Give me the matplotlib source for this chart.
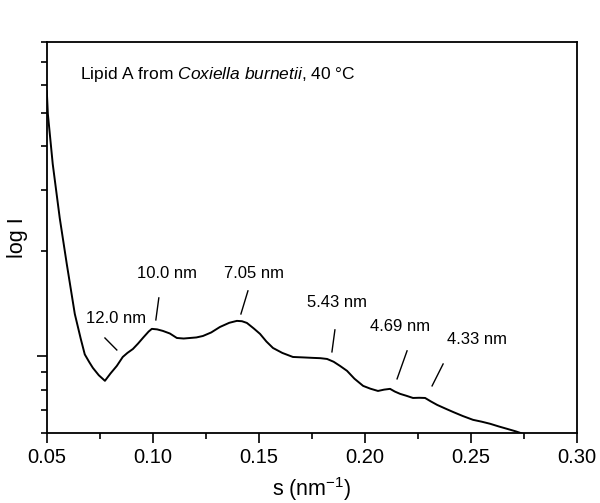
import matplotlib
matplotlib.use("Agg")
import matplotlib.pyplot as plt
from matplotlib.ticker import MultipleLocator, LogLocator, NullFormatter

plt.rcParams["font.family"] = ["Liberation Sans", "DejaVu Sans"]
plt.rcParams["mathtext.fontset"] = "custom"
plt.rcParams["mathtext.rm"] = "Liberation Sans"
plt.rcParams["mathtext.it"] = "Liberation Sans:italic"

# curva de dispersion (s en nm^-1, intensidad relativa)
s_vals = [0.0500, 0.0505, 0.0528, 0.0561, 0.0594, 0.0632, 0.0660, 0.0679,
          0.0700, 0.0717, 0.0745, 0.0774, 0.0800, 0.0830, 0.0858, 0.0880,
          0.0906, 0.0930, 0.0955, 0.0980, 0.0995, 0.1020, 0.1047, 0.1080,
          0.1113, 0.1145, 0.1175, 0.1205, 0.1236, 0.1275, 0.1316, 0.1360,
          0.1396, 0.1420, 0.1443, 0.1475, 0.1505, 0.1535, 0.1566, 0.1610,
          0.1660, 0.1710, 0.1755, 0.1790, 0.1821, 0.1852, 0.1882, 0.1915,
          0.1950, 0.1991, 0.2025, 0.2061, 0.2090, 0.2118, 0.2140, 0.2165,
          0.2195, 0.2226, 0.2255, 0.2283, 0.2310, 0.2340, 0.2380, 0.2415,
          0.2460, 0.2509, 0.2550, 0.2590, 0.2630, 0.2670, 0.2710, 0.2745]
intensity = [5.77, 4.96, 3.56, 2.49, 1.84, 1.32, 1.12, 1.01,
             0.960, 0.924, 0.880, 0.848, 0.890, 0.936, 0.993, 1.020,
             1.047, 1.085, 1.130, 1.175, 1.196, 1.192, 1.180, 1.160,
             1.126, 1.122, 1.126, 1.130, 1.141, 1.168, 1.211, 1.245,
             1.261, 1.258, 1.244, 1.200, 1.157, 1.100, 1.054, 1.020,
             0.993, 0.990, 0.987, 0.985, 0.980, 0.962, 0.936, 0.906,
             0.860, 0.820, 0.805, 0.793, 0.800, 0.804, 0.790, 0.778,
             0.768, 0.757, 0.758, 0.757, 0.740, 0.723, 0.705, 0.690,
             0.672, 0.655, 0.647, 0.638, 0.627, 0.617, 0.607, 0.597]

# etiquetas de los picos
peak_labels = ["12.0 nm", "10.0 nm", "7.05 nm", "5.43 nm", "4.69 nm", "4.33 nm"]
# segmento (x0, y0, x1, y1) y posicion del texto (x, y)
peak_lines = [(0.0774, 1.126, 0.0830, 1.040),
              (0.1028, 1.468, 0.1014, 1.269),
              (0.1448, 1.538, 0.1415, 1.320),
              (0.1858, 1.188, 0.1844, 1.027),
              (0.2198, 1.034, 0.2151, 0.859),
              (0.2368, 0.948, 0.2316, 0.820)]
peak_text = [(0.0825, 1.277), (0.1066, 1.720), (0.1476, 1.720),
             (0.1868, 1.420), (0.2165, 1.211), (0.2528, 1.112)]

fig = plt.figure(figsize=(6.0, 5.03), dpi=100)
ax = fig.add_axes([0.078, 0.139, 0.884, 0.778])

ax.plot(s_vals, intensity, color="black", linewidth=1.4)

for label, seg, pos in zip(peak_labels, peak_lines, peak_text):
    ax.plot([seg[0], seg[2]], [seg[1], seg[3]], color="black", linewidth=1.0)
    ax.text(pos[0], pos[1], label, ha="center", va="center", fontsize=12)

ax.text(0.0656, 6.46, "Lipid A from $\\it{Coxiella\\ burnetii}$, 40 °C",
        fontsize=12.5, va="center", ha="left")

ax.set_yscale("log")
ax.set_xlim(0.05, 0.30)
ax.set_ylim(0.6, 8.0)

ax.xaxis.set_minor_locator(MultipleLocator(0.025))
ax.set_xticks([0.05, 0.10, 0.15, 0.20, 0.25, 0.30])
ax.set_xticklabels(["0.05", "0.10", "0.15", "0.20", "0.25", "0.30"])
ax.yaxis.set_major_locator(LogLocator(base=10))
ax.yaxis.set_minor_locator(LogLocator(base=10, subs=range(2, 10)))
ax.yaxis.set_major_formatter(NullFormatter())
ax.yaxis.set_minor_formatter(NullFormatter())

ax.tick_params(axis="both", which="major", direction="out", length=7, width=1.2,
               labelsize=14.5, top=False, right=False)
ax.tick_params(axis="both", which="minor", direction="out", length=4, width=1.2,
               top=False, right=False)
for sp in ax.spines.values():
    sp.set_linewidth(1.3)

ax.set_xlabel("s (nm$^{-1}$)", fontsize=15.5, labelpad=6)
ax.set_ylabel("log I", fontsize=15.5, labelpad=3)

fig.savefig("out.png", dpi=100)
